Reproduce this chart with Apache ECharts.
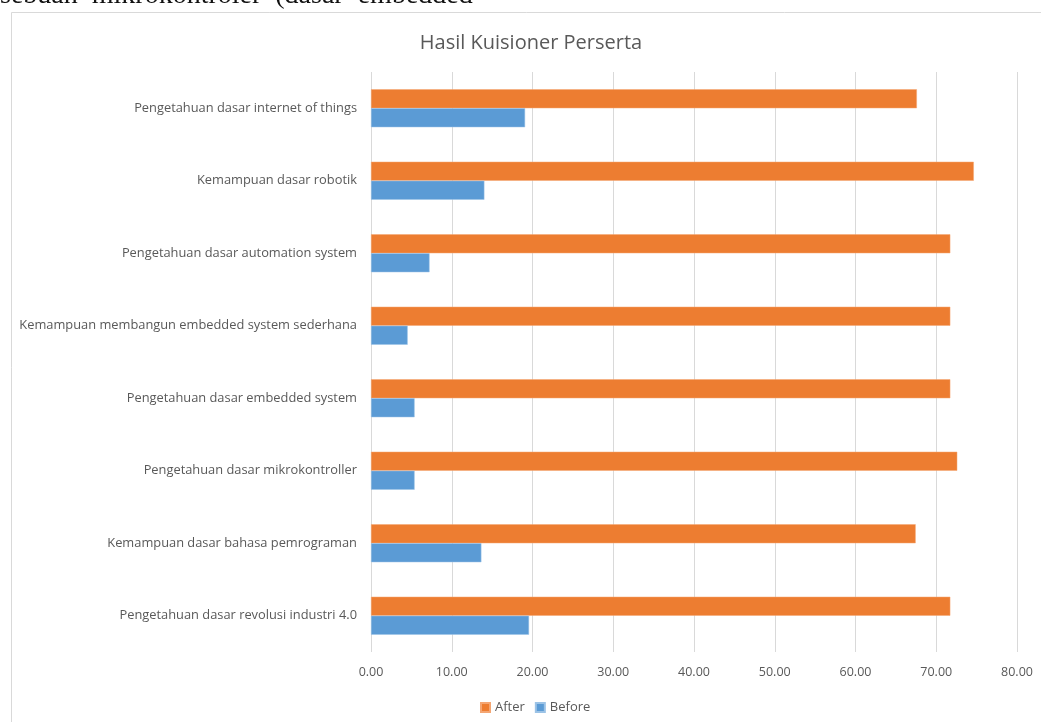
<!DOCTYPE html>
<html>
<head>
<meta charset="utf-8">
<script src="https://cdn.jsdelivr.net/npm/echarts@6/dist/echarts.min.js"></script>
<style>
html,body{margin:0;padding:0;background:#fff;}
#c{width:1041px;height:722px;}
</style>
</head>
<body>
<div id="c"></div>
<script>
// Categories listed bottom-to-top (ECharts category axis order)
const categories = [
  'Pengetahuan dasar revolusi industri 4.0',
  'Kemampuan dasar bahasa pemrograman',
  'Pengetahuan dasar mikrokontroller',
  'Pengetahuan dasar embedded system',
  'Kemampuan membangun embedded system sederhana',
  'Pengetahuan dasar automation system',
  'Kemampuan dasar robotik',
  'Pengetahuan dasar internet of things'
];
const afterValues  = [71.74, 67.45, 72.6, 71.74, 71.74, 71.74, 74.65, 67.6];
const beforeValues = [19.57, 13.67, 5.4, 5.4, 4.54, 7.25, 14.04, 19.08];
const xTicks = [0, 10, 20, 30, 40, 50, 60, 70, 80];

const chart = echarts.init(document.getElementById('c'), null, {renderer: 'canvas'});
const font = 'Open Sans';
chart.setOption({
  animation: false,
  backgroundColor: '#fff',
  title: {
    text: 'Hasil Kuisioner Perserta',
    left: 526, top: 28, textAlign: 'center',
    textStyle: {fontFamily: font, fontSize: 20, fontWeight: 'normal', color: '#595959'}
  },
  graphic: [
    {type: 'rect', shape: {x: 11.5, y: 12.5, width: 1200, height: 900}, style: {fill: 'none', stroke: '#d9d9d9', lineWidth: 1}, silent: true, z: -1},
    {type: 'text', left: 0, top: -18, style: {text: 'sebuah  mikrokontroler  (dasar  embedded', font: 'normal 400 28px "Liberation Serif"', fill: '#111'}, silent: true, z: -2}
  ],
  legend: {
    data: ['After', 'Before'],
    left: 475, top: 696, itemWidth: 9, itemHeight: 9, itemGap: 10,
    textStyle: {fontFamily: font, fontSize: 13, color: '#595959'},
    icon: 'rect'
  },
  grid: {left: 371, right: 24, top: 72, bottom: 70, containLabel: false},
  xAxis: {
    type: 'value', min: xTicks[0], max: xTicks[xTicks.length - 1], interval: 10,
    axisLine: {show: false}, axisTick: {show: false},
    axisLabel: {formatter: v => v.toFixed(2), fontFamily: font, fontSize: 12.5, color: '#595959', margin: 14},
    splitLine: {lineStyle: {color: '#d9d9d9', width: 1}}
  },
  yAxis: {
    type: 'category', data: categories,
    axisLine: {show: false}, axisTick: {show: false},
    axisLabel: {fontFamily: font, fontSize: 12.85, color: '#595959', margin: 14}
  },
  series: [
    {name: 'After', type: 'bar', data: afterValues, barWidth: 19, barGap: '0%',
     itemStyle: {color: '#ed7d31', borderColor: '#f4a673', borderWidth: 0.5}},
    {name: 'Before', type: 'bar', data: beforeValues, barWidth: 19, barGap: '0%',
     itemStyle: {color: '#5b9bd5', borderColor: '#9cc3e6', borderWidth: 0.5}}
  ]
});
</script>
</body>
</html>
